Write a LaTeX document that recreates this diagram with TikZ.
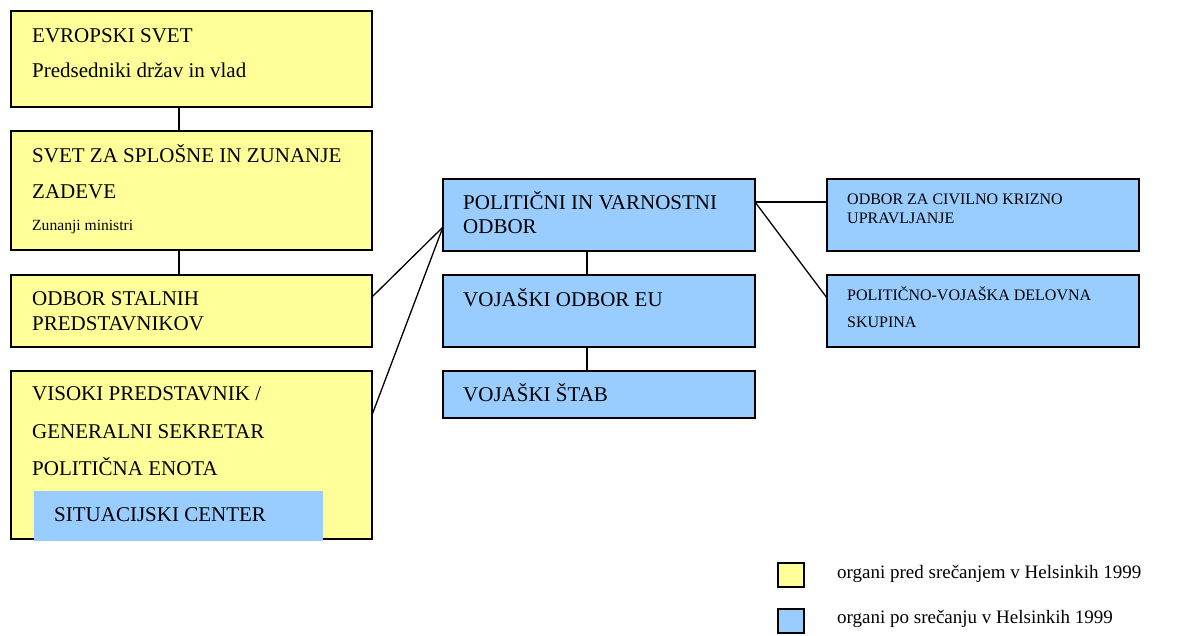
\documentclass[tikz,border=0pt]{standalone}
\usepackage{fontspec}
\setmainfont{Liberation Serif}
\definecolor{ylw}{HTML}{FFFF99}
\definecolor{blu}{HTML}{99CCFF}
\begin{document}
\begin{tikzpicture}[x=1pt,y=-1pt,
  box/.style={draw=black,line width=1.4pt,anchor=north west,inner sep=0pt,outer sep=0pt},
  ybox/.style={box,fill=ylw},
  bbox/.style={box,fill=blu},
  txt/.style={anchor=base west,inner sep=0pt,font=\fontsize{21}{25}\selectfont},
  stxt/.style={anchor=base west,inner sep=0pt,font=\fontsize{15.6}{18}\selectfont},
  rtxt/.style={anchor=base west,inner sep=0pt,font=\fontsize{16}{19}\selectfont},
  ltxt/.style={anchor=base west,inner sep=0pt,font=\fontsize{19}{22}\selectfont},
  conn/.style={line width=1.3pt}]
\useasboundingbox (0,0) rectangle (1180,635);
% left column
\node[ybox,minimum width=361pt,minimum height=96pt] (b1) at (11,11) {};
\node[ybox,minimum width=361pt,minimum height=119pt] (b2) at (11,131) {};
\node[ybox,minimum width=361pt,minimum height=72pt] (b3) at (11,275) {};
\node[ybox,minimum width=361pt,minimum height=168pt] (b4) at (11,371) {};
\node[fill=blu,anchor=north west,inner sep=0pt,minimum width=289pt,minimum height=49.5pt] (sc) at (34,491) {};
% middle column
\node[bbox,minimum width=312pt,minimum height=72pt] (pvo) at (443,179) {};
\node[bbox,minimum width=312pt,minimum height=72pt] (vo) at (443,275) {};
\node[bbox,minimum width=312pt,minimum height=47pt] (vs) at (443,371) {};
% right column
\node[bbox,minimum width=312pt,minimum height=72pt] (ck) at (827,179) {};
\node[bbox,minimum width=312pt,minimum height=72pt] (pv) at (827,275) {};
% legend
\node[ybox,line width=1.2pt,minimum width=26pt,minimum height=24pt] (ly) at (778,563) {};
\node[bbox,line width=1.2pt,minimum width=26pt,minimum height=24pt] (lb) at (778,609) {};
% texts
\node[txt] (t1a) at (32,42) {EVROPSKI SVET};
\node[txt] (t1b) at (32,77) {Predsedniki držav in vlad};
\node[txt] (t2a) at (32,162) {SVET ZA SPLOŠNE IN ZUNANJE};
\node[txt] (t2b) at (32,198) {ZADEVE};
\node[stxt] (t2c) at (32,230) {Zunanji ministri};
\node[txt] (t3a) at (32,305) {ODBOR STALNIH};
\node[txt] (t3b) at (32,330) {PREDSTAVNIKOV};
\node[txt] (t4a) at (32,400) {VISOKI PREDSTAVNIK /};
\node[txt] (t4b) at (32,438) {GENERALNI SEKRETAR};
\node[txt] (t4c) at (32,475) {POLITIČNA ENOTA};
\node[txt] (t4d) at (54,521) {SITUACIJSKI CENTER};
\node[txt] (t5a) at (463,209) {POLITIČNI IN VARNOSTNI};
\node[txt] (t5b) at (463,233) {ODBOR};
\node[txt] (t6) at (463,306) {VOJAŠKI ODBOR EU};
\node[txt] (t7) at (463,401) {VOJAŠKI ŠTAB};
\node[rtxt] (t8a) at (847,204) {ODBOR ZA CIVILNO KRIZNO};
\node[rtxt] (t8b) at (847,223) {UPRAVLJANJE};
\node[rtxt] (t9a) at (847,300) {POLITIČNO-VOJAŠKA DELOVNA};
\node[rtxt] (t9b) at (847,327) {SKUPINA};
\node[ltxt] (l1) at (837,578) {organi pred srečanjem v Helsinkih 1999};
\node[ltxt] (l2) at (837,623) {organi po srečanju v Helsinkih 1999};
% connector reference points
\coordinate (kx1) at (179,0);
\coordinate (kx2) at (587,0);
\coordinate (ky3) at (0,297);
\coordinate (ky4) at (0,415);
\coordinate (kyp) at (0,227);
\coordinate (kyr) at (0,202);
\coordinate (kyv) at (0,298);
% connectors
\draw[conn] (b1.south -| kx1) -- (b2.north -| kx1);
\draw[conn] (b2.south -| kx1) -- (b3.north -| kx1);
\draw[conn] (b3.east |- ky3) -- (pvo.west |- kyp);
\draw[conn] (b4.east |- ky4) -- (pvo.west |- kyp);
\draw[conn] (pvo.south -| kx2) -- (vo.north -| kx2);
\draw[conn] (vo.south -| kx2) -- (vs.north -| kx2);
\draw[conn] (pvo.east |- kyr) -- (ck.west |- kyr);
\draw[conn] (pvo.east |- kyr) -- (pv.west |- kyv);
\end{tikzpicture}
\end{document}
